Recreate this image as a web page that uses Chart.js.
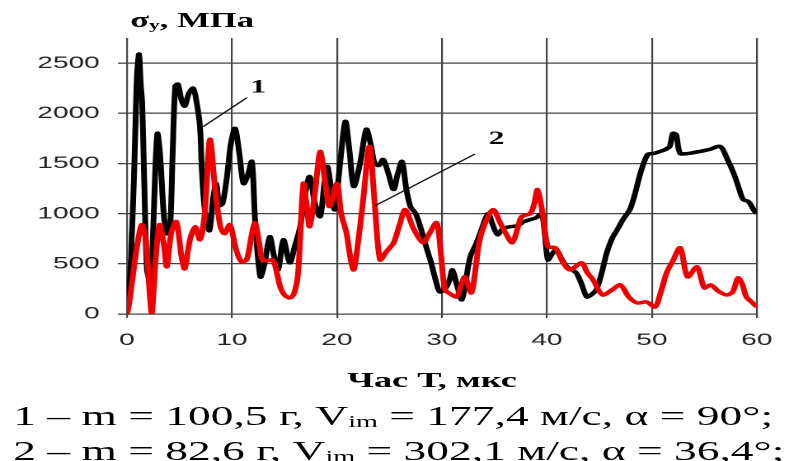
<!DOCTYPE html>
<html>
<head>
<meta charset="utf-8">
<script src="https://cdn.jsdelivr.net/npm/chart.js@4.4.0/dist/chart.umd.min.js"></script>
<style>
  html, body { margin: 0; padding: 0; background: #fff; overflow: hidden; }
  /* the original figure is stretched sideways, so the whole block is drawn narrow and widened */
  #wrap { position: relative; width: 487px; height: 461px; transform: scaleX(1.6489); transform-origin: 0 0; }
  #wrap canvas { position: absolute; left: 0; top: 0; }
  .txt { position: absolute; font-family: "Liberation Serif", "Times New Roman", serif; color: #000; white-space: nowrap; line-height: 1; }
  .bold { font-weight: bold; }
  sub { font-size: 0.62em; vertical-align: -0.12em; line-height: 0; }
</style>
</head>
<body>
<div id="wrap">
  <canvas id="canvas" width="487" height="461"></canvas>
  <div class="txt bold" id="ytitle" style="left:79px; top:10px; font-size:21px;">σ<sub>y</sub>, МПа</div>
  <div class="txt bold" id="xtitle" style="left:262px; top:369px; font-size:22px; transform:translateX(-50%);">Час Т, мкс</div>
  <div class="txt" id="leg1" style="left:8px; top:402px; font-size:27.6px;"></div>
  <div class="txt" id="leg2" style="left:8px; top:437px; font-size:27.6px;"></div>
</div>
<script>
// curve 1 (black): time, мкс / stress, МПа
const time1 = [0, 0.25, 0.45, 0.65, 0.8, 0.95, 1.15, 1.3, 1.45, 1.65, 1.9, 2.2, 2.45, 2.7, 2.9, 3.1, 3.25, 3.5, 3.8, 4.1,
  4.35, 4.6, 4.85, 5.2, 5.5, 5.9, 6.3, 6.6, 6.95, 7.15, 7.45, 7.85, 8.2, 8.5, 8.8, 9.1, 9.5, 9.9, 10.3, 10.7,
  11.1, 11.5, 11.9, 12.2, 12.7, 13.1, 13.6, 14.0, 14.4, 14.9, 15.5, 16.0, 16.5, 16.9, 17.4, 17.9, 18.4, 18.8, 19.1, 19.5,
  19.8, 20.3, 20.8, 21.2, 21.6, 22.2, 22.8, 23.2, 23.6, 24.0, 24.4, 24.9, 25.4, 25.8, 26.2, 26.6, 27.0, 27.5, 28.0, 28.5,
  29.0, 29.5, 29.8, 30.3, 30.7, 31.0, 31.4, 31.9, 32.3, 32.7, 33.3, 33.8, 34.4, 34.8, 35.3, 35.8, 36.5, 37.2, 37.8, 38.4,
  39.0, 39.5, 39.8, 40.1, 40.5, 40.9, 41.4, 41.9, 42.4, 42.8, 43.3, 43.8, 44.2, 44.7, 45.2, 45.7, 46.2, 46.7, 47.3, 47.9,
  48.4, 48.9, 49.6, 50.2, 50.8, 51.3, 51.7, 52.0, 52.3, 52.7, 53.5, 54.6, 55.5, 56.5, 57.2, 57.8, 58.3, 58.7, 59.2, 59.8, 60]
const stress1 = [60, 250, 750, 1300, 1850, 2370, 2590, 2300, 2100, 1300, 450, 330, 700, 1450, 1800, 1650, 1440, 1000, 800, 850,
  1600, 2270, 2290, 2130, 2070, 2200, 2250, 2130, 1870, 1400, 1000, 830, 1150, 1300, 1080, 1100, 1350, 1700, 1850, 1600,
  1300, 1380, 1520, 940, 370, 500, 770, 580, 440, 740, 510, 680, 870, 1150, 1370, 1100, 970, 1300, 1470, 1200,
  1040, 1500, 1920, 1620, 1270, 1500, 1840, 1700, 1500, 1480, 1540, 1400, 1240, 1400, 1520, 1250, 1070, 1000, 850, 670,
  500, 300, 220, 250, 330, 440, 300, 140, 350, 570, 710, 850, 1000, 900, 790, 850, 870, 880, 920, 940,
  960, 1000, 800, 540, 600, 640, 550, 470, 440, 410, 300, 170, 190, 240, 400, 610, 750, 840, 950, 1040,
  1200, 1400, 1590, 1600, 1620, 1640, 1670, 1800, 1790, 1600, 1600, 1620, 1640, 1670, 1540, 1400, 1250, 1140, 1120, 1020, 1000]

// curve 2 (red)
const time2 = [0, 0.2, 0.6, 1.0, 1.4, 1.7, 1.9, 2.1, 2.35, 2.55, 2.75, 3.1, 3.5, 3.8, 4.2, 4.7, 5.2, 5.5, 6.0, 6.5,
  6.95, 7.4, 7.9, 8.4, 8.9, 9.3, 9.8, 10.4, 10.9, 11.4, 11.9, 12.2, 12.6, 12.9, 13.4, 13.9, 14.3, 14.6, 15.0, 15.5,
  15.9, 16.3, 16.8, 17.1, 17.4, 17.9, 18.4, 18.9, 19.3, 20.0, 20.4, 20.9, 21.3, 21.6, 22.0, 22.5, 23.1, 23.6, 24.1, 24.7,
  25.4, 26.0, 26.5, 27.3, 28.2, 28.8, 29.5, 29.9, 30.3, 30.8, 31.4, 31.8, 32.2, 32.8, 33.2, 33.6, 34.3, 34.9, 35.5, 36.1,
  36.7, 37.2, 37.6, 38.4, 38.8, 39.1, 39.6, 40.1, 40.8, 41.5, 42.2, 43.3, 43.8, 44.4, 45.3, 46.2, 47.0, 47.8, 48.6, 49.5,
  50.3, 50.8, 51.4, 52.0, 52.7, 53.4, 54.3, 55.0, 55.6, 56.3, 57.1, 57.7, 58.2, 58.6, 59.0, 59.5, 60]
const stress2 = [0, 100, 410, 700, 890, 800, 610, 300, 0, 250, 570, 890, 700, 470, 800, 920, 570, 450, 740, 870,
  740, 1000, 1740, 1240, 870, 800, 890, 640, 520, 540, 800, 910, 700, 540, 530, 540, 400, 270, 190, 160,
  200, 410, 1300, 1100, 870, 1200, 1620, 1300, 1070, 1300, 1000, 810, 550, 440, 700, 1140, 1670, 1100, 540, 620,
  710, 900, 1040, 850, 710, 800, 910, 600, 240, 200, 170, 280, 370, 210, 450, 740, 950, 1040, 920, 800,
  710, 850, 970, 1000, 1100, 1240, 1000, 670, 660, 520, 440, 510, 420, 340, 190, 240, 290, 170, 110, 120,
  70, 200, 410, 530, 660, 370, 470, 260, 290, 230, 190, 220, 360, 300, 170, 120, 70]

const xTicks = [0, 10, 20, 30, 40, 50, 60]
const yTicks = [0, 500, 1000, 1500, 2000, 2500]

const legendLines = [
  '1 – m = 100,5 г, V<sub>im</sub> = 177,4 м/с, α = 90°;',
  '2 – m = 82,6 г, V<sub>im</sub> = 302,1 м/с, α = 36,4°;'
]
document.getElementById('leg1').innerHTML = legendLines[0]
document.getElementById('leg2').innerHTML = legendLines[1]

function toPoints(xs, ys) {
  var pts = []
  for (let i = 0; i < xs.length; i++) {
    pts.push({ x: xs[i], y: ys[i] })
  }
  return pts
}

// number labels "1", "2" with their leader lines (in axis units)
const curveMarks = [
  { text: '1', at: [12.5, 2255], from: [7.24, 1866], to: [11.43, 2156] },
  { text: '2', at: [35.2, 1742], from: [23.62, 1078], to: [33.14, 1594] }
]

const markPlugin = {
  id: 'marks',
  afterDatasetsDraw(chart) {
    const ctx = chart.ctx
    const xs = chart.scales.x, ys = chart.scales.y
    ctx.save()
    ctx.strokeStyle = '#111'
    ctx.lineWidth = 1.2
    ctx.fillStyle = '#000'
    ctx.font = 'bold 19px "Liberation Serif"'
    ctx.textAlign = 'center'
    ctx.textBaseline = 'middle'
    curveMarks.forEach(function(m) {
      ctx.beginPath()
      ctx.moveTo(xs.getPixelForValue(m.from[0]), ys.getPixelForValue(m.from[1]))
      ctx.lineTo(xs.getPixelForValue(m.to[0]), ys.getPixelForValue(m.to[1]))
      ctx.stroke()
      ctx.fillText(m.text, xs.getPixelForValue(m.at[0]), ys.getPixelForValue(m.at[1]))
    })
    ctx.restore()
  }
}

var ctx = document.getElementById('canvas').getContext('2d')
var config = {
  type: 'line',
  data: {
    datasets: [{
      label: '1',
      data: toPoints(time1, stress1),
      borderColor: '#000000',
      borderWidth: 3.5,
      pointRadius: 0,
      tension: 0.3,
      order: 1
    }, {
      label: '2',
      data: toPoints(time2, stress2),
      borderColor: '#ee0000',
      borderWidth: 3.5,
      pointRadius: 0,
      tension: 0.3,
      order: 0
    }]
  },
  options: {
    responsive: false,
    animation: false,
    devicePixelRatio: 2,
    layout: { padding: { top: 38, right: 28, left: 0, bottom: 0 } },
    plugins: { legend: { display: false }, tooltip: { enabled: false } },
    scales: {
      x: {
        type: 'linear',
        min: 0,
        max: 60,
        afterBuildTicks: function(scale) { scale.ticks = xTicks.map(v => ({ value: v })) },
        afterFit: function(scale) { scale.height = 147 },
        border: { display: false },
        grid: { color: '#444', lineWidth: 1.1, tickLength: 4 },
        ticks: {
          padding: 12,
          color: '#222',
          font: { family: 'Liberation Sans', size: 17 },
          callback: v => String(v)
        }
      },
      y: {
        min: 0,
        max: 2750,
        afterBuildTicks: function(scale) { scale.ticks = yTicks.map(v => ({ value: v })) },
        afterFit: function(scale) { scale.width = 77 },
        border: { display: false },
        grid: { color: '#444', lineWidth: 1.3, tickLength: 5.5 },
        ticks: {
          padding: 11,
          color: '#222',
          font: { family: 'Liberation Sans', size: 17 },
          callback: v => String(v)
        }
      }
    }
  },
  plugins: [markPlugin]
}
var myChart = new Chart(ctx, config)
</script>
</body>
</html>
